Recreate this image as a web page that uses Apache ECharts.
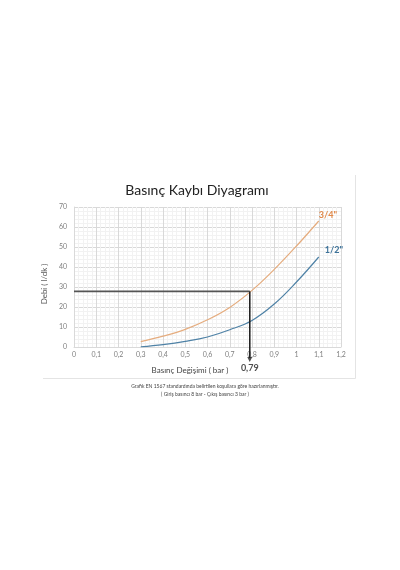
<!DOCTYPE html>
<html><head><meta charset="utf-8">
<script src="https://cdn.jsdelivr.net/npm/echarts@6/dist/echarts.min.js"></script>
<style>html,body{margin:0;padding:0;background:#fff}#c{width:400px;height:570px}</style>
</head><body><div id="c"></div>
<script>
const xValues = [0.3, 0.4, 0.5, 0.6, 0.7, 0.8, 0.9, 1.0, 1.1];
const flow34 = [2.7, 5.4, 8.8, 13.6, 19.8, 28.3, 38.8, 50.5, 63.0];
const flow12 = [0.1, 1.2, 2.8, 5.0, 8.6, 13.3, 21.5, 32.5, 45.0];
const readFlow = 27.8;
const readPressure = 0.79;
const readLabel = '0,79';
const seriesNames = ['3/4"', '1/2"'];
const titleText = 'Basınç Kaybı Diyagramı';
const xName = 'Basınç Değişimi ( bar )';
const yName = 'Debi ( l/dk )';
const note1 = 'Grafik EN 1567 standardında belirtilen koşullara göre hazırlanmıştır.';
const note2 = '( Giriş basıncı 8 bar - Çıkış basıncı 3 bar )';

const FONT = 'Lato, "Open Sans", sans-serif';
const ORANGE = '#E5AC7E', ORANGE_T = '#E0894A';
const BLUE = '#4F82A6', BLUE_T = '#3D7299';

function pairs(xs, ys) { return xs.map((x, i) => [x, ys[i]]); }

const chart = echarts.init(document.getElementById('c'), null, { renderer: 'canvas' });
chart.setOption({
  animation: false,
  backgroundColor: '#fff',
  title: [
    { text: titleText, left: 192, top: 178, textAlign: 'center',
      textStyle: { fontFamily: FONT, fontSize: 14, fontWeight: 'normal', color: '#222' } },
    { text: xName, left: 185, top: 361, textAlign: 'center',
      textStyle: { fontFamily: FONT, fontSize: 8, fontWeight: 'normal', color: '#444' } },
    { text: note1, left: 200, top: 379, textAlign: 'center',
      textStyle: { fontFamily: FONT, fontSize: 5, fontWeight: 'normal', color: '#444' } },
    { text: note2, left: 200, top: 387, textAlign: 'center',
      textStyle: { fontFamily: FONT, fontSize: 5, fontWeight: 'normal', color: '#444' } }
  ],
  graphic: [
    { type: 'line', shape: { x1: 43, y1: 378.5, x2: 355.5, y2: 378.5 }, style: { stroke: '#e4e4e4', lineWidth: 1 } },
    { type: 'line', shape: { x1: 355.5, y1: 175, x2: 355.5, y2: 378.5 }, style: { stroke: '#e4e4e4', lineWidth: 1 } }
  ],
  grid: { left: 74, right: 59, top: 207, bottom: 223, containLabel: false },
  xAxis: {
    type: 'value', min: 0, max: 1.2, interval: 0.1,
    axisLine: { show: true, lineStyle: { color: '#d9d9d9' } },
    axisTick: { show: false },
    axisLabel: { color: '#808080', fontSize: 7, fontFamily: FONT, margin: 4,
      formatter: v => String(+v.toFixed(1)).replace('.', ',') },
    splitLine: { show: true, lineStyle: { color: '#d9d9d9', width: 1 } },
    minorTick: { show: false, splitNumber: 5 },
    minorSplitLine: { show: true, lineStyle: { color: '#f2f2f2', width: 1 } }
  },
  yAxis: {
    type: 'value', min: 0, max: 70, interval: 10,
    name: yName, nameLocation: 'middle', nameGap: 25, nameRotate: 90,
    nameTextStyle: { color: '#595959', fontSize: 8, fontFamily: FONT, padding: [0, 0, 0, -14] },
    axisLine: { show: true, lineStyle: { color: '#d9d9d9' } },
    axisTick: { show: false },
    axisLabel: { color: '#808080', fontSize: 7, fontFamily: FONT, margin: 7 },
    splitLine: { show: true, lineStyle: { color: '#d9d9d9', width: 1 } },
    minorTick: { show: false, splitNumber: 5 },
    minorSplitLine: { show: true, lineStyle: { color: '#f2f2f2', width: 1 } }
  },
  series: [
    { name: seriesNames[0], type: 'line', smooth: 0.4, symbol: 'none', showSymbol: false,
      lineStyle: { color: ORANGE, width: 1.2 }, itemStyle: { color: ORANGE },
      endLabel: { show: true, formatter: seriesNames[0], offset: [-8, -6], color: ORANGE_T,
        fontWeight: 'bold', fontSize: 9, fontFamily: FONT },
      data: pairs(xValues, flow34), z: 3 },
    { name: seriesNames[1], type: 'line', smooth: 0.4, symbol: 'none', showSymbol: false,
      lineStyle: { color: BLUE, width: 1.2 }, itemStyle: { color: BLUE },
      endLabel: { show: true, formatter: seriesNames[1], offset: [-2, -7], color: BLUE_T,
        fontWeight: 'bold', fontSize: 9, fontFamily: FONT },
      data: pairs(xValues, flow12), z: 3 },
    { name: 'okuma-yatay', type: 'line', symbol: 'none', silent: true, clip: false,
      lineStyle: { color: '#555', width: 1.6 },
      data: [[0, readFlow], [readPressure, readFlow]], z: 4 },
    { name: 'okuma-dikey', type: 'line', symbol: 'none', silent: true, clip: false,
      lineStyle: { color: '#222', width: 1.6 },
      data: [[readPressure, readFlow], [readPressure, -5.5]], z: 4 },
    { name: 'okuma-ok', type: 'scatter', silent: true, clip: false,
      symbol: 'triangle', symbolRotate: 180, symbolSize: [5, 5],
      itemStyle: { color: '#222' },
      label: { show: true, position: 'bottom', distance: 2, formatter: readLabel, color: '#222',
        fontWeight: 'bold', fontSize: 9, fontFamily: FONT },
      data: [[readPressure, -6.2]], z: 5 }
  ]
});
</script></body></html>
